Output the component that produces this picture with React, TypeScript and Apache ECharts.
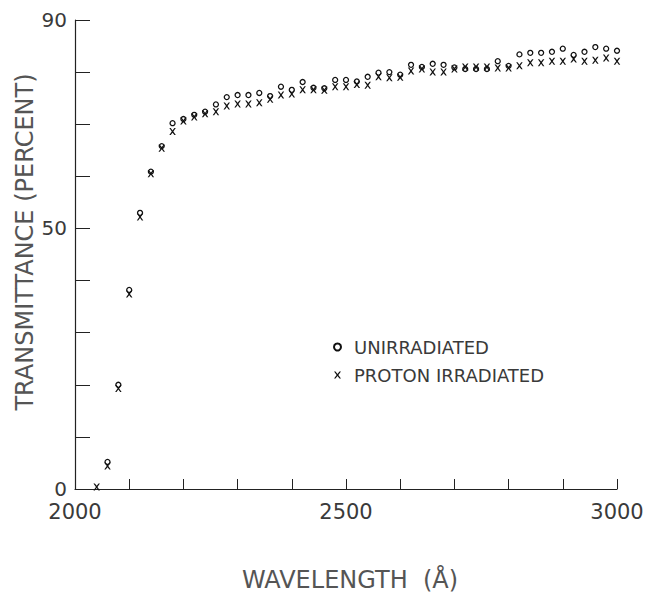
import React, { useEffect, useRef } from "react";
import * as echarts from "echarts";

const wavelengths = [
  2040, 2060, 2080, 2100, 2120, 2140, 2160, 2180, 2200,
  2220, 2240, 2260, 2280, 2300, 2320, 2340, 2360, 2380, 2400,
  2420, 2440, 2460, 2480, 2500, 2520, 2540, 2560, 2580, 2600,
  2620, 2640, 2660, 2680, 2700, 2720, 2740, 2760, 2780, 2800,
  2820, 2840, 2860, 2880, 2900, 2920, 2940, 2960, 2980, 3000,
];

const unirradiated: (number | null)[] = [
  null, 5.2, 20.0, 38.2, 53.0, 60.9, 65.8, 70.2, 71.0,
  71.8, 72.4, 73.8, 75.2, 75.6, 75.6, 76.0, 75.4, 77.2, 76.6,
  78.1, 77.0, 76.9, 78.5, 78.5, 78.2, 79.1, 79.9, 80.0, 79.5,
  81.4, 81.0, 81.6, 81.4, 80.9, 80.6, 80.6, 80.6, 82.1, 81.2,
  83.4, 83.7, 83.7, 83.9, 84.5, 83.3, 83.9, 84.8, 84.5, 84.1,
];

const protonIrradiated: number[] = [
  0.4, 4.4, 19.3, 37.4, 52.2, 60.5, 65.4, 68.6, 70.6,
  71.4, 72.0, 72.4, 73.5, 73.9, 73.9, 74.1, 74.8, 75.6, 75.8,
  76.6, 76.6, 76.5, 77.2, 77.2, 77.6, 77.5, 79.1, 78.9, 79.0,
  80.2, 80.6, 80.0, 80.0, 80.6, 81.0, 81.0, 81.0, 80.8, 80.8,
  81.2, 81.8, 81.8, 82.1, 82.1, 82.5, 82.1, 82.3, 82.7, 82.1,
];

const xLabels = [2000, 2500, 3000];
const yLabels = [0, 50, 90];

const seriesNames = ["UNIRRADIATED", "PROTON IRRADIATED"];
const xTitle = "WAVELENGTH  (Å)";
const yTitle = "TRANSMITTANCE (PERCENT)";

const X_SYMBOL =
  "path://M0,0 L2.2,0 L5,3.4 L7.8,0 L10,0 L6.2,5 L10,10 L7.8,10 L5,6.6 L2.2,10 L0,10 L3.8,5 Z";

const FONT = "DejaVu Sans";
const TEXT_COLOR = "#3a3a3a";

export default function App() {
  const ref = useRef<HTMLDivElement>(null);

  useEffect(() => {
    if (!ref.current) return;
    const chart = echarts.init(ref.current, undefined, { renderer: "svg" });

    const pairs = (vals: (number | null)[]) =>
      wavelengths.map((w, i) => [w, vals[i]]).filter((p) => p[1] !== null);

    chart.setOption({
      animation: false,
      backgroundColor: "#ffffff",
      grid: { left: 75, top: 20, width: 542, height: 469 },
      xAxis: {
        type: "value",
        min: 2000,
        max: 3000,
        interval: 100,
        axisLine: { show: true, lineStyle: { color: "#222", width: 1.2 } },
        axisTick: { show: true, inside: true, length: 10, lineStyle: { color: "#222", width: 1 } },
        splitLine: { show: false },
        axisLabel: {
          margin: 12,
          fontSize: 21,
          fontFamily: FONT,
          color: TEXT_COLOR,
          formatter: (v: number) => (xLabels.includes(v) ? String(v) : ""),
        },
      },
      yAxis: {
        type: "value",
        min: 0,
        max: 90,
        interval: 10,
        axisLine: { show: true, lineStyle: { color: "#222", width: 1.2 } },
        axisTick: { show: true, inside: true, length: 15, lineStyle: { color: "#222", width: 1 } },
        splitLine: { show: false },
        axisLabel: {
          margin: 8,
          fontSize: 20,
          fontFamily: FONT,
          color: TEXT_COLOR,
          formatter: (v: number) => (yLabels.includes(v) ? String(v) : ""),
        },
      },
      legend: {
        orient: "vertical",
        left: 328,
        top: 333,
        itemWidth: 7,
        itemHeight: 7,
        itemGap: 10,
        textStyle: {
          fontSize: 18,
          fontFamily: FONT,
          color: TEXT_COLOR,
          padding: [0, 0, 0, 8],
        },
        data: [
          { name: seriesNames[0], icon: "circle" },
          { name: seriesNames[1], icon: X_SYMBOL },
        ],
      },
      graphic: [
        {
          type: "text",
          x: 25,
          y: 242,
          rotation: Math.PI / 2,
          style: {
            text: yTitle,
            fontSize: 24,
            fontFamily: FONT,
            fill: "#555",
            textAlign: "center",
            textVerticalAlign: "middle",
          },
        },
        {
          type: "text",
          x: 350,
          y: 580,
          style: {
            text: xTitle,
            fontSize: 24,
            fontFamily: FONT,
            fill: "#555",
            textAlign: "center",
            textVerticalAlign: "middle",
          },
        },
      ],
      series: [
        {
          name: seriesNames[0],
          type: "scatter",
          symbol: "circle",
          symbolSize: 5,
          clip: false,
          itemStyle: { color: "#ffffff", borderColor: "#111", borderWidth: 1.3, opacity: 1 },
          data: pairs(unirradiated),
        },
        {
          name: seriesNames[1],
          type: "scatter",
          symbol: X_SYMBOL,
          symbolSize: [6.5, 7],
          clip: false,
          itemStyle: { color: "#111", opacity: 1 },
          data: pairs(protonIrradiated),
        },
      ],
    });

    return () => chart.dispose();
  }, []);

  return (
    <div
      ref={ref}
      style={{ position: "fixed", left: 0, top: 0, width: 662, height: 595, background: "#fff" }}
    />
  );
}
